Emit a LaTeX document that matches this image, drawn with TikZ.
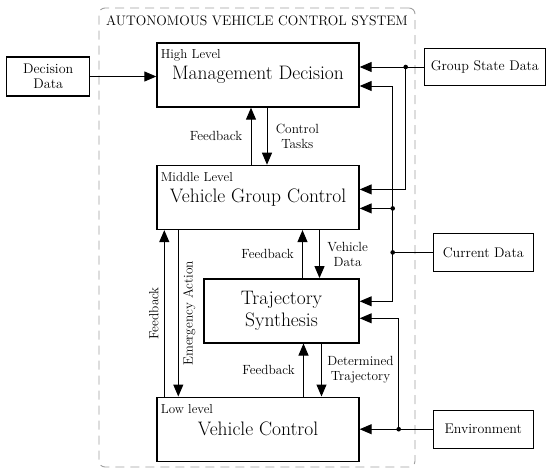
\documentclass[tikz,border=0pt]{standalone}
\usetikzlibrary{arrows.meta, positioning}
\tikzset{
  level/.style={draw, rectangle, line width=1.4pt, minimum width=202pt, minimum height=64pt, align=center, font=\fontsize{19.5}{22}\selectfont},
  level name/.style={font=\fontsize{13}{15}\selectfont, anchor=north west, xshift=1pt, yshift=-4pt},
  source/.style={draw, rectangle, line width=1.2pt, minimum height=38pt, align=center, font=\fontsize{14}{15.5}\selectfont},
  note/.style={font=\fontsize{13.3}{15}\selectfont, align=center},
  flow/.style={-{Triangle[length=12pt, width=10pt]}, line width=1pt},
  wire/.style={line width=1pt},
}

\begin{document}
\begin{tikzpicture}[x=1pt, y=1pt]
  \useasboundingbox (0,0) rectangle (550,-475);

  % system frame
  \node[draw=gray!75, line width=0.9pt, dash pattern=on 9pt off 6pt, rounded corners=6pt, minimum width=316pt, minimum height=459pt] (system) at (257,-237.5) {};
  \node[font=\fontsize{13.8}{15}\selectfont, below=5pt of system.north] (system-title) {AUTONOMOUS VEHICLE CONTROL SYSTEM};

  % levels
  \node[level, label={[level name]north west:High Level}] (management) at (258,-75) {Management Decision};
  \node[level, below=57pt of management, label={[level name]north west:Middle Level}] (group-control) {Vehicle Group Control};
  \node[level, minimum width=155pt, below=48pt of group-control.south east, anchor=north east] (trajectory) {Trajectory\\Synthesis};
  \node[level, below=53pt of trajectory.south east, anchor=north east, label={[level name]north west:Low level}] (vehicle-control) {Vehicle Control};

  % outside inputs
  \node[source, minimum width=83pt, minimum height=39pt, left=66pt of management, yshift=-1.5pt] (decision-data) {Decision\\Data};
  \node[source, minimum width=121pt, minimum height=37pt, right=64pt of management, yshift=8pt] (group-state) {Group State Data};
  \node[source, minimum width=100pt, right=73pt of group-control, yshift=-55pt] (current-data) {Current Data};
  \node[source, minimum width=100pt, right=73pt of vehicle-control] (environment) {Environment};

  \draw[flow] (decision-data.east) -- (decision-data.east -| management.west);

  % group state data
  \coordinate[left=18pt of group-state.west] (group-state-joint);
  \draw[flow] (group-state.west) -- (group-state.west -| management.east);
  \draw[flow] (group-state-joint) |- ([yshift=8pt]group-control.east);
  \fill (group-state-joint) circle (2.3pt);

  % current data
  \coordinate[left=40pt of current-data.west] (current-joint);
  \coordinate (group-control-in) at ([yshift=-11pt]group-control.east);
  \draw[wire] (current-data.west) -- (current-joint);
  \draw[flow] (current-joint) |- ([yshift=-11pt]management.east);
  \draw[flow] (current-joint) |- ([yshift=9.5pt]trajectory.east);
  \draw[flow] (current-joint |- group-control-in) -- (group-control-in);
  \fill (current-joint) circle (2.3pt) (current-joint |- group-control-in) circle (2.3pt);

  % environment
  \coordinate[left=34pt of environment.west] (environment-joint);
  \draw[wire] (environment.west) -- (environment-joint);
  \draw[flow] (environment-joint) -- (environment-joint -| vehicle-control.east);
  \draw[flow] (environment-joint) |- ([yshift=-7.5pt]trajectory.east);
  \fill (environment-joint) circle (2.3pt);

  % between levels
  \draw[flow] ([xshift=-7pt]management.south |- group-control.north) -- node[note, left=5pt] {Feedback} ([xshift=-7pt]management.south);
  \draw[flow] ([xshift=9pt]management.south) -- node[note, right=5pt] {Control\\Tasks} ([xshift=9pt]management.south |- group-control.north);
  \draw[flow] ([xshift=21pt]trajectory.north) -- node[note, left=5pt] {Feedback} ([xshift=21pt]trajectory.north |- group-control.south);
  \draw[flow] ([xshift=38pt]trajectory.north |- group-control.south) -- node[note, right=4pt] {Vehicle\\Data} ([xshift=38pt]trajectory.north);
  \draw[flow] ([xshift=22pt]trajectory.north |- vehicle-control.north) -- node[note, left=5pt] {Feedback} ([xshift=22pt]trajectory.south);
  \draw[flow] ([xshift=40pt]trajectory.south) -- node[note, right=2pt] {Determined\\Trajectory} ([xshift=40pt]trajectory.north |- vehicle-control.north);
  \draw[flow] ([xshift=8pt]vehicle-control.north west) -- node[note, rotate=90, anchor=south, yshift=2pt] {Feedback} ([xshift=8pt]group-control.south west);
  \draw[flow] ([xshift=22pt]group-control.south west) -- node[note, rotate=90, anchor=north, yshift=-1pt] {Emergency Action} ([xshift=22pt]vehicle-control.north west);
\end{tikzpicture}
\end{document}
